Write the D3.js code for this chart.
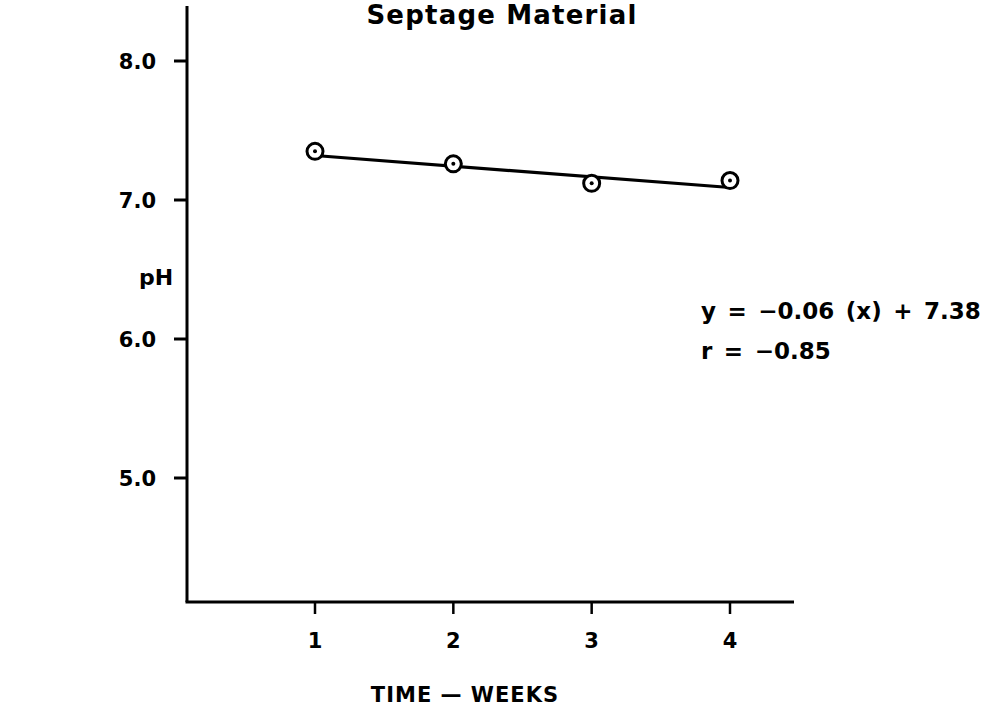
<!DOCTYPE html>
<html>
<head>
<meta charset="utf-8">
<script src="https://cdn.jsdelivr.net/npm/d3@7"></script>
<style>
  body { margin: 0; background: #fff; }
  text { font-family: "DejaVu Sans", sans-serif; fill: #000; }
</style>
</head>
<body>
<script>
// data
var weeks = [1, 2, 3, 4];
var phValues = [7.35, 7.26, 7.12, 7.14];
var fitWeeks = [1, 4];
var fitValues = [7.32, 7.09];
var yTicks = [5.0, 6.0, 7.0, 8.0];
var xTicks = [1, 2, 3, 4];
var eqLines = ["y = \u22120.06 (x) + 7.38", "r = \u22120.85"];

var width = 997, height = 713;
var svg = d3.select("body").append("svg")
    .attr("width", width)
    .attr("height", height);

// scales
var x = d3.scaleLinear().domain([1, 4]).range([315, 730]);
var y = d3.scaleLinear().domain([5, 8]).range([478, 61]);

var axisX0 = 187, axisY0 = 602;

// axes lines
svg.append("line")
    .attr("x1", axisX0).attr("x2", axisX0)
    .attr("y1", 6).attr("y2", axisY0)
    .attr("stroke", "#000").attr("stroke-width", 3);
svg.append("line")
    .attr("x1", axisX0 - 1.5).attr("x2", 794)
    .attr("y1", axisY0).attr("y2", axisY0)
    .attr("stroke", "#000").attr("stroke-width", 3);

// y ticks
var yt = svg.append("g");
yt.selectAll("line").data(yTicks).enter().append("line")
    .attr("x1", axisX0 - 13).attr("x2", axisX0)
    .attr("y1", function (d) { return y(d); })
    .attr("y2", function (d) { return y(d); })
    .attr("stroke", "#000").attr("stroke-width", 3);
yt.selectAll("text").data(yTicks).enter().append("text")
    .attr("x", 156)
    .attr("y", function (d) { return y(d); })
    .attr("dy", "0.36em")
    .attr("text-anchor", "end")
    .attr("font-size", 21)
    .attr("font-weight", "bold")
    .text(function (d) { return d.toFixed(1); });

// x ticks
var xt = svg.append("g");
xt.selectAll("line").data(xTicks).enter().append("line")
    .attr("x1", function (d) { return x(d); })
    .attr("x2", function (d) { return x(d); })
    .attr("y1", axisY0).attr("y2", axisY0 + 12)
    .attr("stroke", "#000").attr("stroke-width", 2.5);
xt.selectAll("text").data(xTicks).enter().append("text")
    .attr("x", function (d) { return x(d); })
    .attr("y", 648)
    .attr("text-anchor", "middle")
    .attr("font-size", 21)
    .attr("font-weight", "bold")
    .text(function (d) { return d; });

// fit line
svg.append("path")
    .datum(d3.zip(fitWeeks, fitValues))
    .attr("d", d3.line().x(function (d) { return x(d[0]); }).y(function (d) { return y(d[1]); }))
    .attr("fill", "none")
    .attr("stroke", "#000")
    .attr("stroke-width", 3.2);

// data points
var pts = svg.append("g").selectAll("g")
    .data(d3.zip(weeks, phValues))
    .enter().append("g")
    .attr("transform", function (d) { return "translate(" + x(d[0]) + "," + y(d[1]) + ")"; });
pts.append("circle")
    .attr("r", 8)
    .attr("fill", "#fff")
    .attr("stroke", "#000")
    .attr("stroke-width", 3);
pts.append("circle")
    .attr("r", 2)
    .attr("fill", "#000");

// title
svg.append("text")
    .attr("x", 502).attr("y", 24)
    .attr("text-anchor", "middle")
    .attr("font-size", 26)
    .attr("font-weight", "bold")
    .attr("letter-spacing", 1.2)
    .text("Septage Material");

// y label
svg.append("text")
    .attr("x", 139).attr("y", 285)
    .attr("font-size", 22)
    .attr("font-weight", "bold")
    .text("pH");

// x label
svg.append("text")
    .attr("x", 465).attr("y", 702)
    .attr("text-anchor", "middle")
    .attr("font-size", 21)
    .attr("font-weight", "bold")
    .attr("letter-spacing", 1)
    .text("TIME \u2014 WEEKS");

// equation
svg.append("g").selectAll("text")
    .data(eqLines)
    .enter().append("text")
    .attr("x", 701)
    .attr("y", function (d, i) { return 319 + i * 40; })
    .attr("font-size", 23)
    .attr("font-weight", "bold")
    .attr("word-spacing", 3.5)
    .text(function (d) { return d; });
</script>
</body>
</html>
